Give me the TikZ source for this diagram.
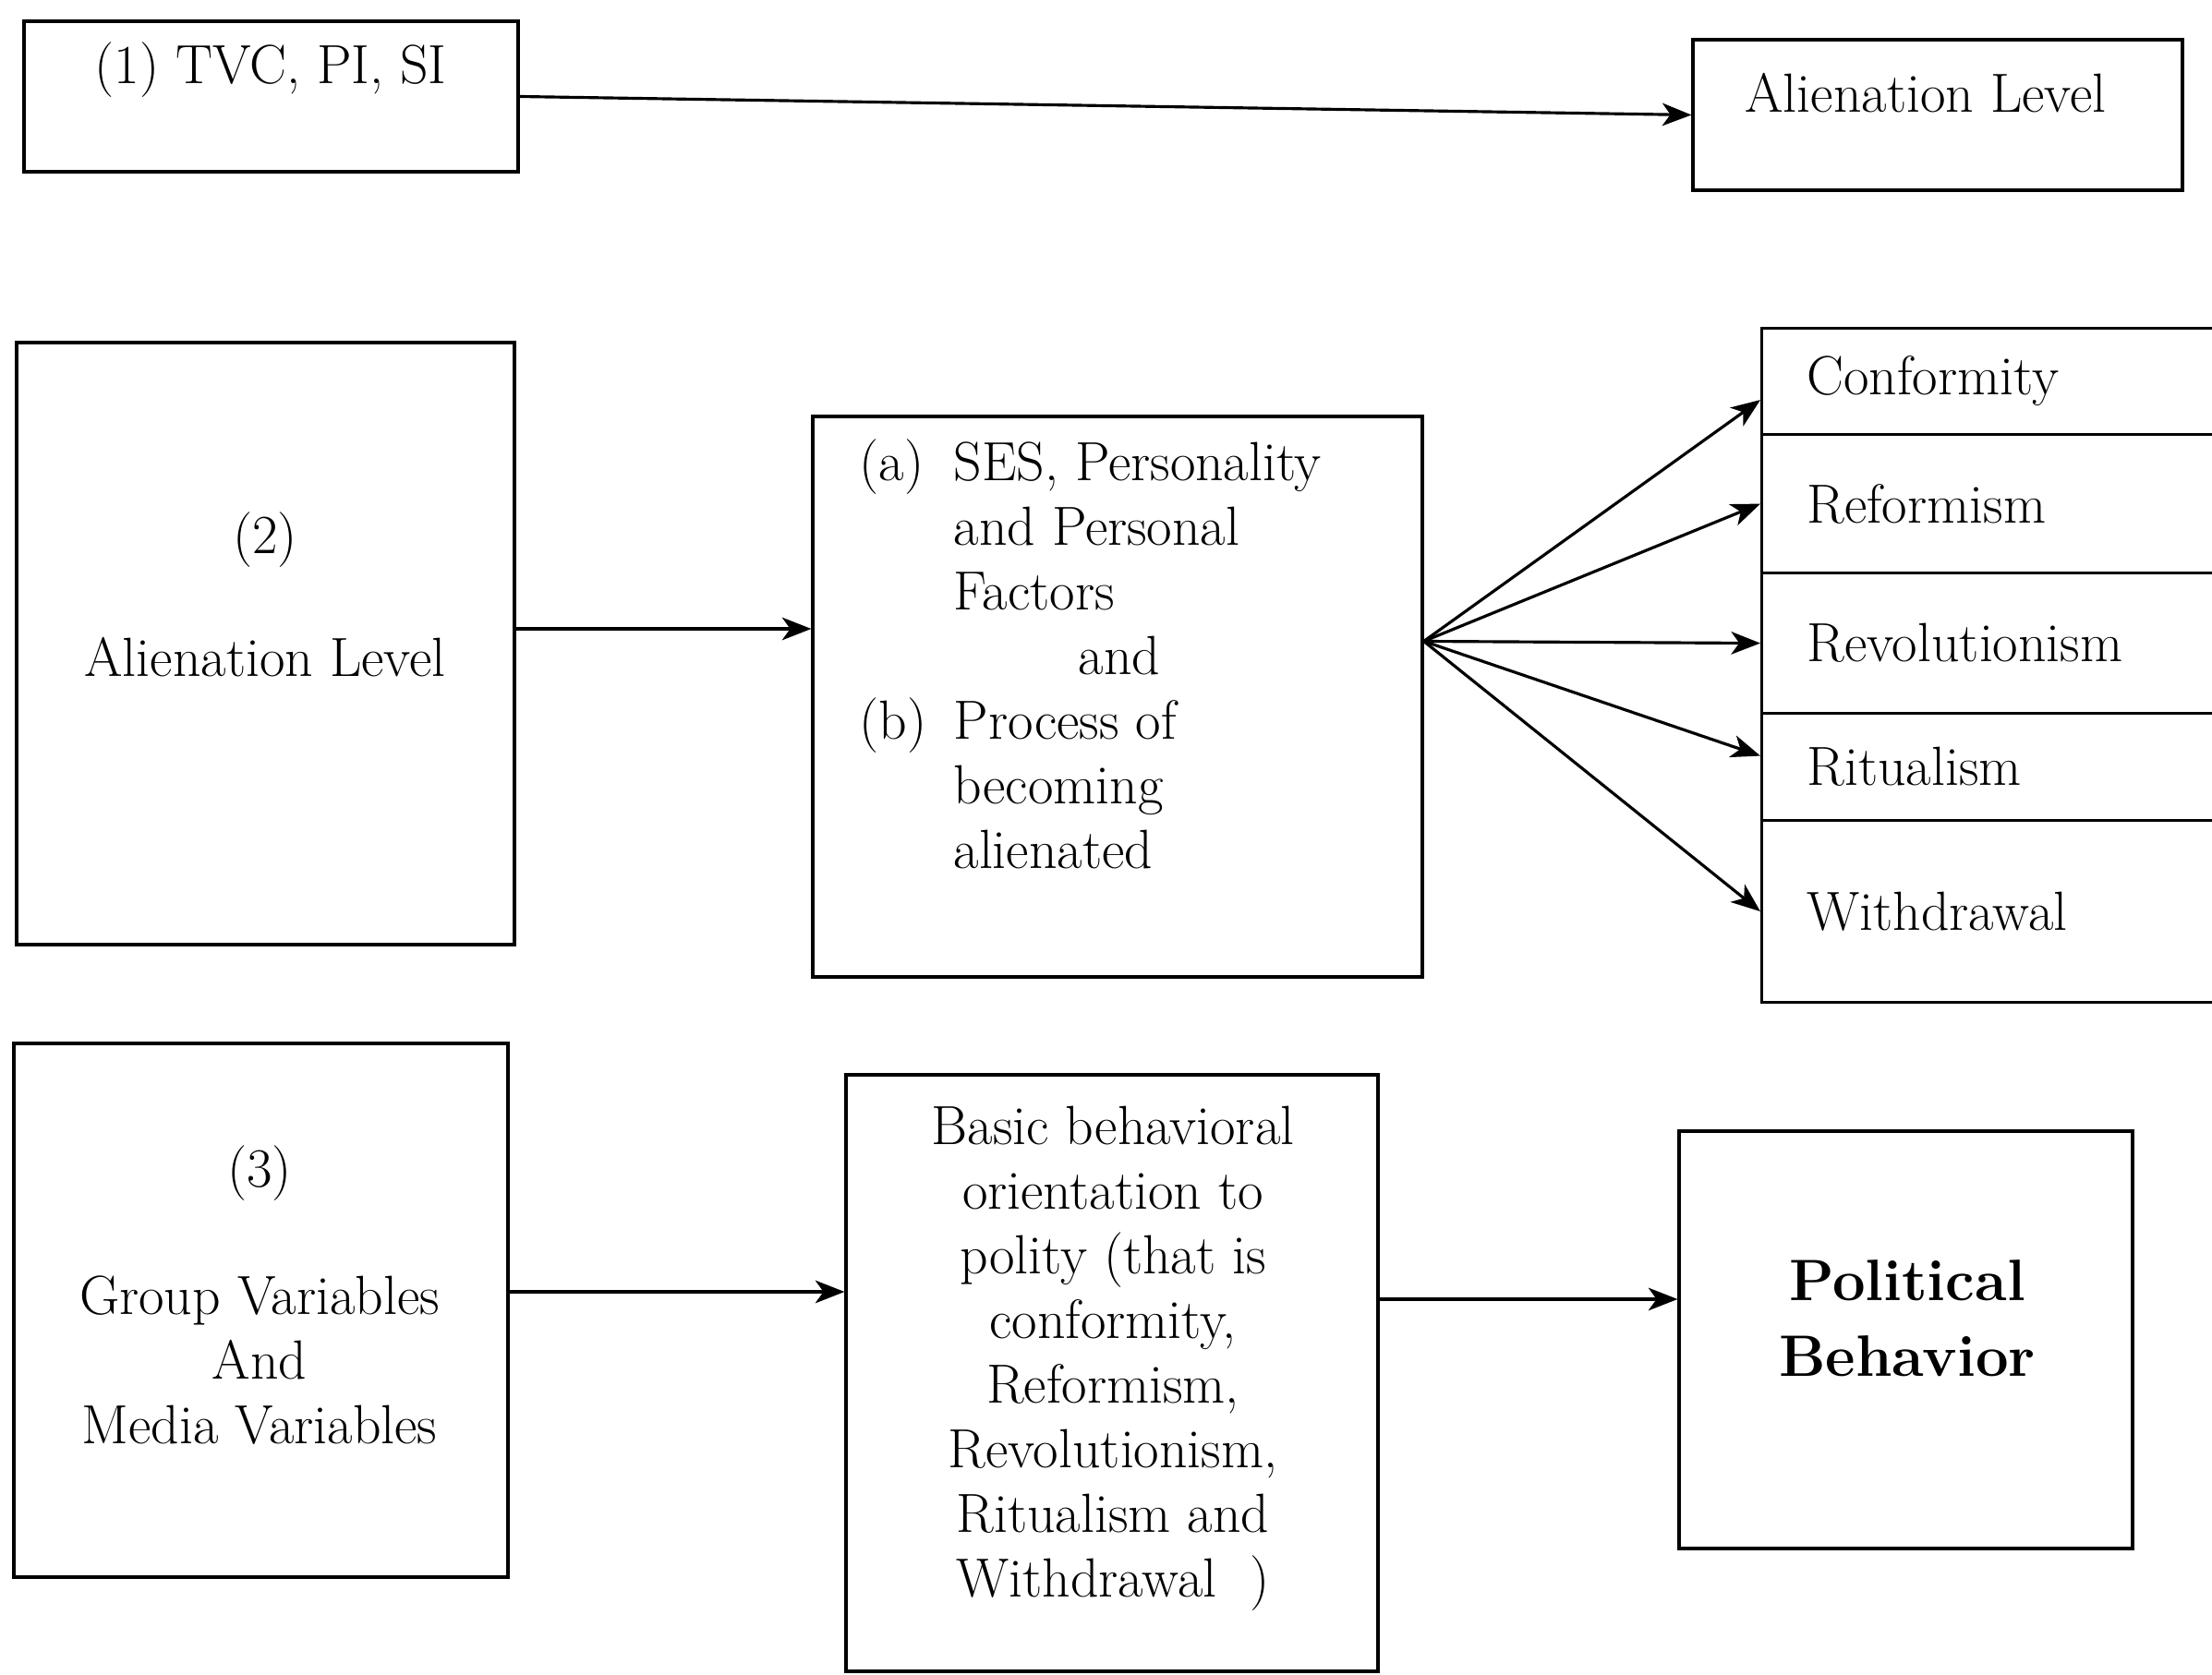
\documentclass[tikz,border=0pt]{standalone}
\usepackage{tikz}
\usetikzlibrary{arrows.meta}
\usetikzlibrary{calc}
\usetikzlibrary{positioning}

\begin{document}
\begin{tikzpicture}[
	x=1cm,y=-1cm,
	line width=0.9pt,
	> = {Stealth[length=9pt,width=7pt,inset=2.5pt]},
	box/.style = {draw,rectangle,inner sep=0pt},
	txt/.style = {inner sep=0pt,align=center,font=\fontsize{17}{19.9}\selectfont},
	cell/.style = {draw,rectangle,anchor=north west,inner sep=0pt,inner xsep=0.49cm,text width=4.02cm,align=left,font=\fontsize{17}{19.9}\selectfont}
	]

	\useasboundingbox (0,0) rectangle (23.95,18.14);

	% boxes
	\node[box,minimum width=5.35cm,minimum height=1.63cm] (tvc) at (2.935,1.045) {};
	\node[box,minimum width=5.30cm,minimum height=1.63cm] (al1) at (20.98,1.245) {};
	\node[box,minimum width=5.39cm,minimum height=6.52cm] (lev2) at (2.875,6.97) {};
	\node[box,minimum width=6.60cm,minimum height=6.07cm] (fac) at (12.10,7.545) {};
	\node[box,minimum width=5.35cm,minimum height=5.78cm] (grp) at (2.825,14.19) {};
	\node[box,minimum width=5.76cm,minimum height=6.46cm] (orient) at (12.04,14.87) {};
	\node[box,minimum width=4.91cm,minimum height=4.52cm] (pb) at (20.635,14.51) {};

	% right column
	\node[cell,minimum height=1.15cm] (c1) at (19.06,3.54) {Conformity};
	\node[cell,minimum height=1.50cm] (c2) at (19.06,4.69) {Reformism};
	\node[cell,minimum height=1.52cm] (c3) at (19.06,6.19) {Revolutionism};
	\node[cell,minimum height=1.16cm] (c4) at (19.06,7.71) {Ritualism};
	\node[cell,minimum height=1.97cm] (c5) at (19.06,8.87) {Withdrawal};

	% texts
	\node[txt] (tvctxt) at (2.93,0.76) {(1) TVC, PI, SI};
	\node[txt] (al1txt) at (20.85,1.01) {Alienation Level};
	\node[txt] (lev2txt) at (2.87,6.435) {(2)\\[0.63cm]Alienation Level};
	\node[txt,anchor=west] (factxt) at (9.29,7.165) {\begin{tabular}{@{}p{1.02cm}@{}l@{}}
		(a) & SES, Personality\\
		    & and Personal\\
		    & Factors\\
		\multicolumn{2}{@{}l@{}}{\hspace*{2.37cm}and}\\
		(b) & Process of\\
		    & becoming\\
		    & alienated
	\end{tabular}};
	\node[txt] (grptxt) at (2.81,14.03) {(3)\\[0.68cm]Group Variables\\And\\Media Variables};
	\node[txt] (orienttxt) at (12.05,14.715) {Basic behavioral\\orientation to\\polity (that is\\conformity,\\Reformism,\\Revolutionism,\\Ritualism and\\Withdrawal\ \ )};
	\node[txt,font=\fontsize{18}{23.3}\selectfont\bfseries] (pbtxt) at (20.65,14.28) {Political\\Behavior};

	% arrows
	\draw[->] (tvc.east) -- (al1.west);

	\coordinate (@a) at ([yshift=0.16cm]lev2.east);
	\draw[->] (@a) -- (@a -| fac.west);

	\coordinate (@f) at ([yshift=0.6cm]fac.east);
	\draw[->] (@f) -- ([yshift=-0.2cm]c1.west);
	\foreach \c in {c2,c3,c5}
		\draw[->] (@f) -- (\c.west);
	\draw[->] (@f) -- ([yshift=0.12cm]c4.west);

	\coordinate (@g) at ([yshift=0.2cm]grp.east);
	\draw[->] (@g) -- (@g -| orient.west);

	\coordinate (@b) at ([yshift=0.8cm]orient.east);
	\draw[->] (@b) -- (@b -| pb.west);

\end{tikzpicture}
\end{document}
